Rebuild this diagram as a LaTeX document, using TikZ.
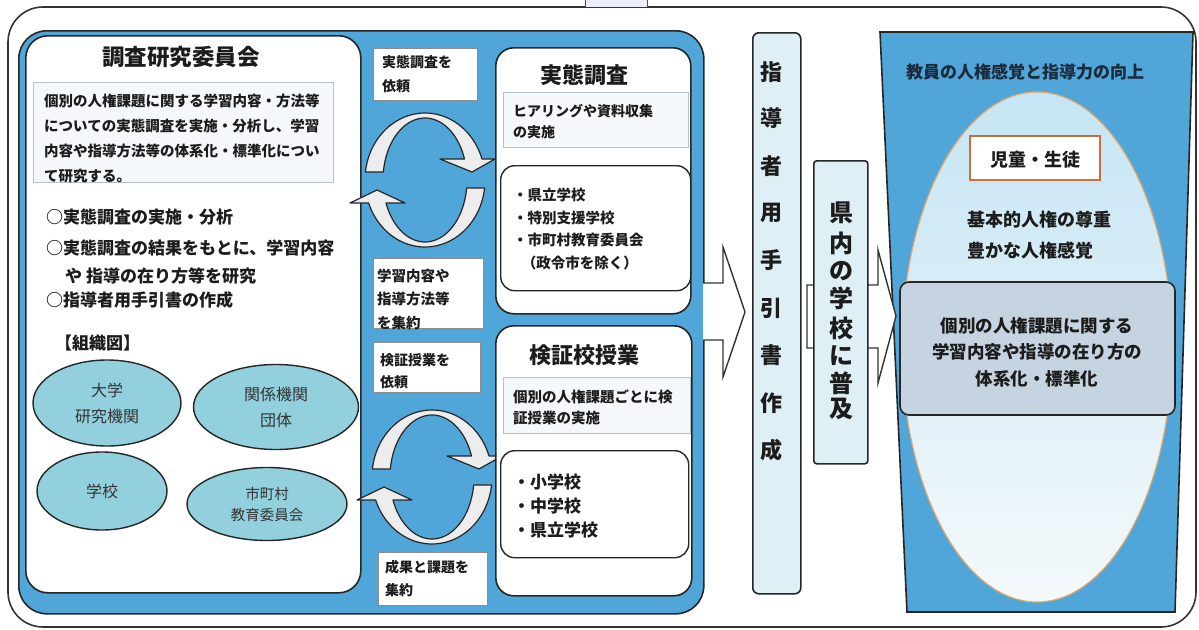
\documentclass[tikz,border=0pt]{standalone}
\usepackage{fontspec}
\setmainfont{Noto Sans CJK JP}
\usetikzlibrary{shapes.geometric}
\definecolor{panelblue}{RGB}{80,166,216}
\definecolor{tealell}{RGB}{145,208,220}
\definecolor{vboxc}{RGB}{222,239,245}
\definecolor{grayboxc}{RGB}{198,211,224}
\definecolor{eggtop}{RGB}{198,229,244}
\definecolor{eggbot}{RGB}{244,249,251}
\definecolor{eggline}{RGB}{228,168,108}
\definecolor{inkc}{RGB}{28,28,28}
\definecolor{lightbox}{RGB}{244,248,250}
\definecolor{lightline}{RGB}{178,194,204}
\definecolor{childline}{RGB}{200,112,62}
\definecolor{tabfill}{RGB}{236,236,250}
\definecolor{navyink}{RGB}{28,42,58}
\newcommand\jsz[2]{\fontsize{#1}{#2}\selectfont}
\newcommand\cyclepair{%
  \draw[cyc] plot[domain=186.9:341.7] ({425+60*cos(\x)},{180+67*sin(\x)})
     -- (495,159) -- (472,172) -- (440,159)
     -- plot[domain=340.2:187.4] ({425+42*cos(\x)},{180+62*sin(\x)}) -- cycle;
  \draw[cyc] plot[domain=6.9:160] ({425+60*cos(\x)},{180+67*sin(\x)})
     -- (350,203) -- (377,190) -- (405,203)
     -- plot[domain=158.2:7.4] ({425+42*cos(\x)},{180+62*sin(\x)}) -- cycle;
}
\begin{document}
\begin{tikzpicture}[x=1pt,y=-1pt,
  panel/.style={draw=black!85, fill=white, line width=1.6pt, rounded corners=22pt, inner sep=0pt, anchor=north west},
  tbox/.style={draw=lightline, fill=lightbox, line width=0.8pt, inner sep=0pt, anchor=north west},
  lbl/.style={draw=black!45, fill=white, line width=0.8pt, inner sep=0pt, anchor=north west},
  innerbox/.style={draw=black!85, fill=white, line width=1.4pt, rounded corners=14pt, inner sep=0pt, anchor=north west},
  orgell/.style={ellipse, draw=black!85, fill=tealell, line width=1.4pt, align=center, inner sep=0pt, font=\jsz{16}{26}, text=black!80},
  txt/.style={inner sep=0pt, text=inkc, font=\bfseries},
  cyc/.style={draw=black!85, fill=black!7, line width=1.2pt, line join=round, samples=40, smooth},
  blockarrow/.style={draw=black!80, fill=white, line width=1.4pt, line join=miter},
  vcol/.style={draw=black!85, fill=vboxc, line width=1.6pt, inner sep=0pt, anchor=north west},
]
\useasboundingbox (0,0) rectangle (1199,629);
\fill[white] (0,0) rectangle (1199,629);
% outer frame
\draw[black!80, line width=1.6pt, rounded corners=35pt] (8,7) rectangle (1196,627);
\fill[tabfill] (585,0) rectangle (647,7);
\draw[black!70, line width=1pt] (585,0) -- (585,7) (647,0) -- (647,7);

% blue panel
\node[draw=black!85, fill=panelblue, line width=1.6pt, rounded corners=28pt, minimum width=685pt, minimum height=583pt, anchor=north west, inner sep=0pt] (bluepanel) at (18,30) {};

% left committee panel
\node[panel, minimum width=335pt, minimum height=557pt] (cttee) at (25,35) {};
\node[txt, font=\bfseries\jsz{22.5}{22.5}] (ctitle) at (181,57) {調査研究委員会};
\node[tbox, minimum width=300pt, minimum height=100pt] (cdesc) at (33,82) {};
\node[txt, anchor=west, align=left, font=\bfseries\jsz{14.5}{25}] (cdesctxt) at (44,138) {個別の人権課題に関する学習内容・方法等\\についての実態調査を実施・分析し、学習\\内容や指導方法等の体系化・標準化につい\\て研究する。};
\node[txt, anchor=west, font=\bfseries\jsz{17}{17}] (b1) at (46,217) {○実態調査の実施・分析};
\node[txt, anchor=west, font=\bfseries\jsz{17}{17}] (b2) at (46,248) {○実態調査の結果をもとに、学習内容};
\node[txt, anchor=west, font=\bfseries\jsz{17}{17}] (b3) at (65,276) {や\ 指導の在り方等を研究};
\node[txt, anchor=west, font=\bfseries\jsz{17}{17}] (b4) at (46,300) {○指導者用手引書の作成};
\node[txt, anchor=west, font=\bfseries\jsz{17}{17}] (orgt) at (55,343) {【組織図】};
\node[orgell, minimum width=148pt, minimum height=86pt] (univ) at (107,403) {大学\\研究機関};
\node[orgell, minimum width=165pt, minimum height=85pt] (rel) at (276,407) {関係機関\\団体};
\node[orgell, minimum width=130pt, minimum height=78pt] (school) at (102,491) {学校};
\node[orgell, minimum width=160pt, minimum height=73pt, font=\jsz{14.5}{21}] (muni) at (267,504) {市町村\\教育委員会};

% middle labels
\node[lbl, minimum width=104pt, minimum height=52pt] (req1) at (373,48) {};
\node[txt, anchor=west, align=left, font=\bfseries\jsz{14}{24}] (req1t) at (382,74) {実態調査を\\依頼};
\node[lbl, minimum width=110pt, minimum height=70pt] (col1) at (373,258) {};
\node[txt, anchor=west, align=left, font=\bfseries\jsz{14.5}{23.5}] (col1t) at (377,299) {学習内容や\\指導方法等\\を集約};
\node[lbl, minimum width=107pt, minimum height=50pt] (req2) at (373,342) {};
\node[txt, anchor=west, align=left, font=\bfseries\jsz{14}{22}] (req2t) at (380,371) {検証授業を\\依頼};
\node[lbl, minimum width=109pt, minimum height=53pt] (col2) at (378,552) {};
\node[txt, anchor=west, align=left, font=\bfseries\jsz{14}{23}] (col2t) at (385,578.5) {成果と課題を\\集約};

% cycle arrows
\cyclepair
\begin{scope}[shift={(7,297)}]
\cyclepair
\end{scope}

% survey panel
\node[panel, rounded corners=18pt, minimum width=195pt, minimum height=266pt] (survey) at (495,47) {};
\node[txt, font=\bfseries\jsz{22}{22}] (surveyt) at (584,75) {実態調査};
\node[tbox, minimum width=185pt, minimum height=55pt] (surveyd) at (503,92) {};
\node[txt, anchor=west, align=left, font=\bfseries\jsz{14}{21}] (surveydt) at (513,122) {ヒアリングや資料収集\\の実施};
\node[innerbox, minimum width=190pt, minimum height=125pt] (surveyl) at (500,165) {};
\node[txt, anchor=west, align=left, font=\bfseries\jsz{14.5}{22.7}] (surveylt) at (513,229) {・県立学校\\・特別支援学校\\・市町村教育委員会\\\hspace*{0.6em}（政令市を除く）};

% verification panel
\node[panel, rounded corners=18pt, minimum width=196pt, minimum height=270pt] (verify) at (495,325) {};
\node[txt, font=\bfseries\jsz{22}{22}] (verifyt) at (584,355) {検証校授業};
\node[tbox, minimum width=187pt, minimum height=56pt] (verifyd) at (503,377) {};
\node[txt, anchor=west, align=left, font=\bfseries\jsz{14.5}{21}] (verifydt) at (513,407.5) {個別の人権課題ごとに検\\証授業の実施};
\node[innerbox, minimum width=188pt, minimum height=107pt] (verifyl) at (500,450) {};
\node[txt, anchor=west, align=left, font=\bfseries\jsz{17}{24}] (verifylt) at (513,506) {・小学校\\・中学校\\・県立学校};

% block arrow 1
\draw[blockarrow] (703,283) -- (723,283) -- (723,247) -- (745,312) -- (723,377) -- (723,340) -- (703,340);

% guide column
\node[vcol, rounded corners=6pt, minimum width=48pt, minimum height=561pt] (guide) at (752,32) {};
\foreach \c/\yy in {指/72,導/118,者/166,用/213,手/260,引/308,書/355,作/403,成/450}
  \node[txt, font=\bfseries\jsz{22}{22}] (g\yy) at (771,\yy) {\c};

% right trapezoid
\draw[draw=black!85, fill=panelblue, line width=1.6pt] (880,32) -- (1193,32) -- (1175,612) -- (907,612) -- cycle;
\draw[draw=eggline, line width=1.2pt, top color=eggtop, bottom color=eggbot] (1037,347) ellipse [x radius=135pt, y radius=255pt];

% block arrow 2
\draw[blockarrow] (807,285) -- (878,285) -- (878,250) -- (896,316) -- (878,383) -- (878,348) -- (807,348) -- cycle;

% spread column
\node[vcol, rounded corners=3pt, minimum width=54pt, minimum height=303pt] (spread) at (813,160) {};
\foreach \c/\yy in {県/213,内/243,の/271,学/298,校/328,に/356,普/383,及/409}
  \node[txt, font=\bfseries\jsz{24}{24}] (s\yy) at (841,\yy) {\c};

\node[txt, text=navyink, font=\bfseries\jsz{17}{17}] (teach) at (1025,72) {教員の人権感覚と指導力の向上};
\node[draw=childline, fill=white, line width=1.4pt, minimum width=130pt, minimum height=44pt, inner sep=0pt] (child) at (1035,158) {};
\node[txt, font=\bfseries\jsz{18}{18}] (childt) at (1035,160) {児童・生徒};
\node[txt, anchor=west, font=\bfseries\jsz{18}{18}] (basic) at (967,220) {基本的人権の尊重};
\node[txt, anchor=west, font=\bfseries\jsz{18}{18}] (rich) at (967,251) {豊かな人権感覚};
\node[draw=black!85, fill=grayboxc, line width=1.6pt, rounded corners=9pt, minimum width=275pt, minimum height=133pt, inner sep=0pt] (core) at (1037.5,348.5) {};
\node[txt, align=center, font=\bfseries\jsz{17.5}{26.5}] (coret) at (1037,352) {個別の人権課題に関する\\学習内容や指導の在り方の\\体系化・標準化};
\end{tikzpicture}
\end{document}
